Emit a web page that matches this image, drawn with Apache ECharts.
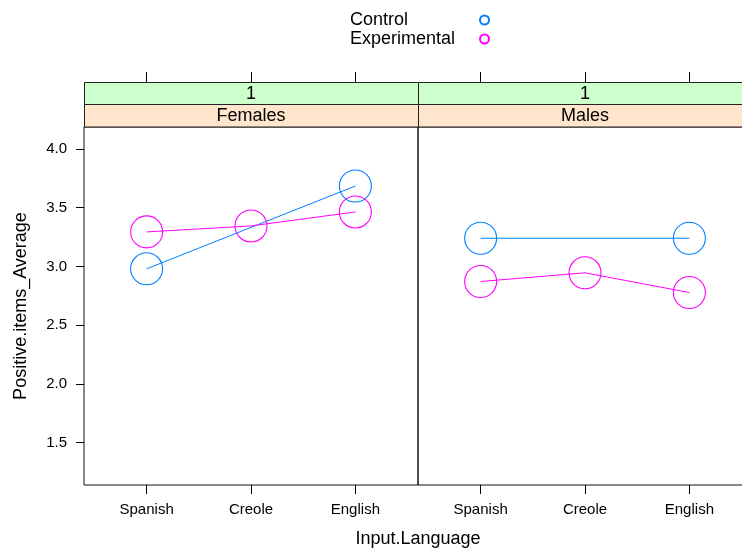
<!DOCTYPE html>
<html>
<head>
<meta charset="utf-8">
<script src="https://cdn.jsdelivr.net/npm/echarts@6/dist/echarts.min.js"></script>
<style>
html,body{margin:0;padding:0;background:#fff;}
#chart{width:742px;height:550px;}
</style>
</head>
<body>
<div id="chart"></div>
<script>
// ---- data ----
const languages = ['Spanish', 'Creole', 'English'];
const panels = ['Females', 'Males'];
const stripTop = ['1', '1'];
const groups = ['Control', 'Experimental'];
const femalesControl = [2.98, null, 3.685];
const femalesExperimental = [3.294, 3.345, 3.464];
const malesControl = [3.24, null, 3.24];
const malesExperimental = [2.872, 2.946, 2.778];
const yTicks = [1.5, 2.0, 2.5, 3.0, 3.5, 4.0];
const yMin = 1.140, yMax = 4.187;

const FONT = 'Liberation Sans, Arial, Helvetica, sans-serif';
const BLUE = '#0080ff', PINK = '#ff00ff';

function pts(arr) { return arr.map((v, i) => [i + 1, v]); }
const xTickVals = languages.map((_, i) => i + 1);

const chart = echarts.init(document.getElementById('chart'));

function bottomX(gi) {
  return {
    type: 'value', gridIndex: gi, min: 0.4, max: 3.6, position: 'bottom',
    splitLine: { show: false }, axisLine: { show: false },
    axisTick: { show: true, length: 9, customValues: xTickVals, lineStyle: { color: '#000' } },
    axisLabel: { show: true, customValues: xTickVals, margin: 17, fontSize: 15, color: '#000', fontFamily: FONT,
      formatter: v => languages[Math.round(v) - 1] }
  };
}
function topX(gi) {
  return {
    type: 'value', gridIndex: gi, min: 0.4, max: 3.6, position: 'top', offset: 45,
    splitLine: { show: false }, axisLine: { show: false },
    axisTick: { show: true, length: 10, customValues: xTickVals, lineStyle: { color: '#000' } },
    axisLabel: { show: false }
  };
}
function yAx(gi, labels) {
  return {
    type: 'value', gridIndex: gi, min: yMin, max: yMax,
    splitLine: { show: false }, axisLine: { show: false },
    axisTick: { show: labels, length: 8, customValues: yTicks, lineStyle: { color: '#000' } },
    axisLabel: { show: labels, customValues: yTicks, margin: 17, fontSize: 15, color: '#000', fontFamily: FONT,
      formatter: v => v.toFixed(1) }
  };
}
function ser(name, data, xi, color) {
  return {
    name: name, type: 'line', xAxisIndex: xi, yAxisIndex: xi, data: pts(data),
    connectNulls: true, symbol: 'circle', symbolSize: 32, showSymbol: true,
    lineStyle: { color: color, width: 1 },
    itemStyle: { color: 'rgba(0,0,0,0)', borderColor: color, borderWidth: 1.1 },
    emphasis: { disabled: true }, animation: false
  };
}

function strip(x, w, y, h, fill, text) {
  return [
    { type: 'rect', shape: { x: x + 0.5, y: y + 0.5, width: w, height: h }, style: { fill: fill, stroke: '#222', lineWidth: 1 }, z: 10 },
    { type: 'text', x: x + w / 2, y: y + h / 2 + 1, style: { text: text, fill: '#000', font: '18px ' + FONT, align: 'center', verticalAlign: 'middle' }, z: 11 }
  ];
}

const option = {
  backgroundColor: '#fff',
  animation: false,
  legend: {
    orient: 'vertical', left: 350, top: 11, itemGap: 1, align: 'right', padding: 0,
    itemWidth: 9, itemHeight: 9, icon: 'emptyCircle',
    formatter: name => '{a|' + name + '}',
    textStyle: { fontSize: 18, color: '#000', fontFamily: FONT,
      rich: { a: { width: 125, align: 'left', fontSize: 18, lineHeight: 17, fontFamily: FONT, color: '#000' } } },
    data: [
      { name: groups[0], itemStyle: { color: BLUE, borderColor: BLUE, borderWidth: 1 } },
      { name: groups[1], itemStyle: { color: PINK, borderColor: PINK, borderWidth: 1 } }
    ],
    selectedMode: false
  },
  grid: [
    { left: 84, top: 127, width: 334, height: 358, show: true, borderColor: '#111', borderWidth: 1, backgroundColor: 'transparent', outerBoundsMode: 'none' },
    { left: 418, top: 127, width: 334, height: 358, show: true, borderColor: '#111', borderWidth: 1, backgroundColor: 'transparent', outerBoundsMode: 'none' }
  ],
  xAxis: [bottomX(0), bottomX(1), topX(0), topX(1)],
  yAxis: [yAx(0, true), yAx(1, false)],
  series: [
    ser(groups[0], femalesControl, 0, BLUE),
    ser(groups[1], femalesExperimental, 0, PINK),
    ser(groups[0], malesControl, 1, BLUE),
    ser(groups[1], malesExperimental, 1, PINK)
  ],
  graphic: [
    ...strip(84, 334, 82, 22, '#ccffcc', stripTop[0]),
    ...strip(418, 334, 82, 22, '#ccffcc', stripTop[1]),
    ...strip(84, 334, 104, 22.5, '#ffe5cc', panels[0]),
    ...strip(418, 334, 104, 22.5, '#ffe5cc', panels[1]),
    { type: 'text', x: 418, y: 539, style: { text: 'Input.Language', fill: '#000', font: '18px ' + FONT, align: 'center', verticalAlign: 'middle' } },
    { type: 'text', x: 21, y: 306, rotation: Math.PI / 2, style: { text: 'Positive.items_Average', fill: '#000', font: '18px ' + FONT, align: 'center', verticalAlign: 'middle' } }
  ]
};
chart.setOption(option);
</script>
</body>
</html>
